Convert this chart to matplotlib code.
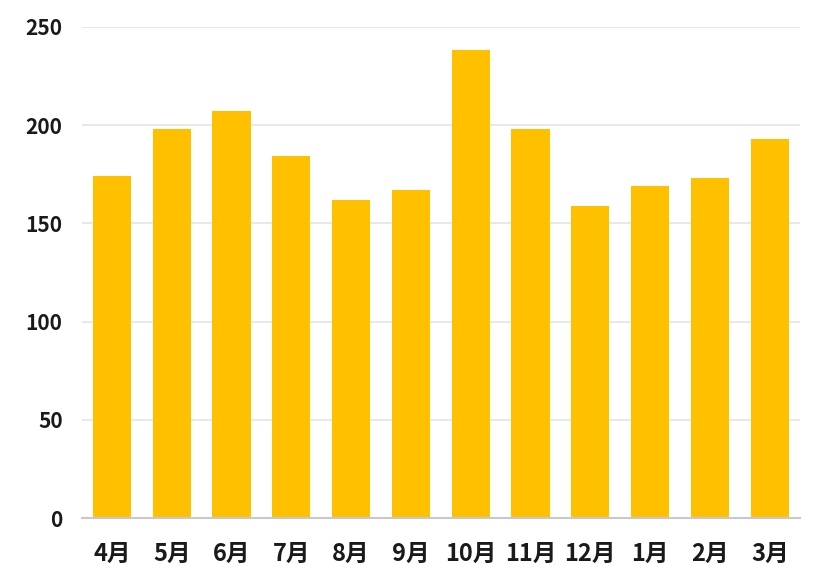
import matplotlib
matplotlib.use("Agg")
import matplotlib.pyplot as plt

plt.rcParams['font.family'] = ['Noto Sans CJK SC', 'DejaVu Sans']

months = ["4月", "5月", "6月", "7月", "8月", "9月", "10月", "11月", "12月", "1月", "2月", "3月"]
values = [174, 198, 207, 184, 162, 167, 238, 198, 159, 169, 173, 193]
yticks = [0, 50, 100, 150, 200, 250]

fig = plt.figure(figsize=(8.16, 5.75), dpi=100)
ax = fig.add_axes([0.1005, 0.0986, 0.8795, 0.855])

x = list(range(len(months)))
ax.bar(x, values, width=0.64, color="#FFC000", zorder=3)

ax.set_xlim(-0.5, len(months) - 0.5)
ax.set_ylim(0, 250)
ax.set_yticks(yticks)
ax.set_yticklabels([str(v) for v in yticks])
ax.set_xticks(x)
ax.set_xticklabels(months)

ax.grid(axis="y", color="#e6e6e6", linewidth=1.3, zorder=0)
for s in ["top", "right", "left"]:
    ax.spines[s].set_visible(False)
ax.spines["bottom"].set_color("#c8c8c8")
ax.spines["bottom"].set_linewidth(1.5)
ax.spines["bottom"].set_zorder(4)

ax.tick_params(axis="y", length=0, pad=14, labelsize=15, labelcolor="#1a1a1a")
ax.tick_params(axis="x", length=0, pad=17, labelsize=17, labelcolor="#1a1a1a")
for lab in ax.get_xticklabels() + ax.get_yticklabels():
    lab.set_fontweight("bold")

fig.savefig("out.png", dpi=100, facecolor="white")
